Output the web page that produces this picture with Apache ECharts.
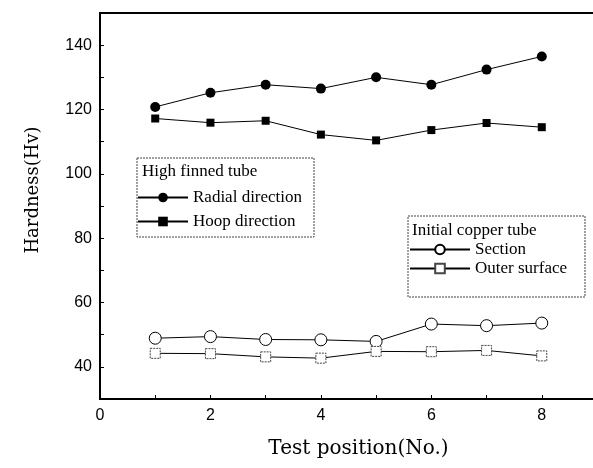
<!DOCTYPE html>
<html>
<head>
<meta charset="utf-8">
<script src="https://cdn.jsdelivr.net/npm/echarts@6/dist/echarts.min.js"></script>
<style>
  html, body { margin: 0; padding: 0; background: #fff; }
  #main { width: 593px; height: 468px; }
</style>
</head>
<body>
<div id="main"></div>
<script>
// test positions (x axis)
var positions = [1, 2, 3, 4, 5, 6, 7, 8];
// high finned tube
var radial = [120.8, 125.2, 127.7, 126.5, 130.0, 127.7, 132.4, 136.5];
var hoop = [117.2, 115.9, 116.5, 112.2, 110.4, 113.6, 115.8, 114.5];
// initial copper tube
var section = [48.9, 49.4, 48.5, 48.4, 47.9, 53.3, 52.8, 53.6];
var outer = [44.2, 44.1, 43.1, 42.7, 44.8, 44.7, 45.1, 43.4];

var xTickLabels = [0, 2, 4, 6, 8];
var yTickLabels = [40, 60, 80, 100, 120, 140];

function pairs(vals) {
    var out = [];
    for (var i = 0; i < positions.length; i++) {
        out.push([positions[i], vals[i]]);
    }
    return out;
}

var serif = "'Liberation Serif', 'DejaVu Serif', serif";
var wideSerif = "'DejaVu Serif', serif";
var sans = "'Liberation Sans', Arial, sans-serif";

var myChart = echarts.init(document.getElementById("main"));

var option = {
    animation: false,
    backgroundColor: "#fff",
    grid: {
        left: 100,
        width: 497,   // x = 9 sits just past the right edge, like the cropped original
        top: 13,
        bottom: 69,
        outerBoundsMode: "none",
        show: true,
        borderColor: "#000",
        borderWidth: 2
    },
    xAxis: {
        type: "value",
        min: 0,
        max: 9,
        interval: 1,
        name: "Test position(No.)",
        nameLocation: "middle",
        nameGap: 40,
        nameTextStyle: { fontFamily: wideSerif, fontSize: 20, color: "#000", padding: [0, 0, 0, 20] },
        axisLine: { lineStyle: { color: "#000", width: 2 } },
        axisTick: { inside: true, length: 4, lineStyle: { color: "#000" } },
        splitLine: { show: false },
        axisLabel: {
            margin: 9,
            fontFamily: sans,
            fontSize: 16,
            color: "#000",
            formatter: function (v) {
                return xTickLabels.indexOf(v) >= 0 ? String(v) : "";
            }
        }
    },
    yAxis: {
        type: "value",
        min: 30,
        max: 150,
        interval: 10,
        name: "Hardness(Hv)",
        nameLocation: "middle",
        nameGap: 58,
        nameTextStyle: { fontFamily: wideSerif, fontSize: 18, color: "#000", padding: [0, 0, 0, 32] },
        axisLine: { lineStyle: { color: "#000", width: 2 } },
        axisTick: { inside: true, length: 4, lineStyle: { color: "#000" } },
        splitLine: { show: false },
        axisLabel: {
            margin: 8,
            fontFamily: sans,
            fontSize: 16,
            color: "#000",
            formatter: function (v) {
                return yTickLabels.indexOf(v) >= 0 ? String(v) : "";
            }
        }
    },
    legend: [
        {
            orient: "vertical",
            left: 137,
            top: 189,
            itemWidth: 50,
            itemHeight: 12,
            itemGap: 7,
            padding: 0,
            textStyle: { fontFamily: serif, fontSize: 17, color: "#000" },
            data: ["Radial direction", "Hoop direction"]
        },
        {
            orient: "vertical",
            left: 409,
            top: 241,
            itemWidth: 60,
            itemHeight: 12,
            itemGap: 2,
            padding: 0,
            textStyle: { fontFamily: serif, fontSize: 17, color: "#000" },
            data: ["Section", "Outer surface"]
        }
    ],
    graphic: [
        {
            type: "rect",
            shape: { x: 137, y: 158, width: 177, height: 79 },
            style: { fill: "#fff", stroke: "#444", lineWidth: 1, lineDash: [2, 1] },
            z: 0
        },
        {
            type: "text",
            left: 142,
            top: 163,
            style: { text: "High finned tube", font: "17px " + serif, fill: "#000" },
            z: 5
        },
        {
            type: "rect",
            shape: { x: 408, y: 216, width: 177, height: 81 },
            style: { fill: "#fff", stroke: "#444", lineWidth: 1, lineDash: [2, 1] },
            z: 0
        },
        {
            type: "text",
            left: 412,
            top: 222,
            style: { text: "Initial copper tube", font: "17px " + serif, fill: "#000" },
            z: 5
        }
    ],
    series: [
        {
            name: "Radial direction",
            type: "line",
            data: pairs(radial),
            symbol: "circle",
            symbolSize: 10,
            itemStyle: { color: "#000" },
            lineStyle: { color: "#000", width: 1 }
        },
        {
            name: "Hoop direction",
            type: "line",
            data: pairs(hoop),
            symbol: "rect",
            symbolSize: 8,
            itemStyle: { color: "#000" },
            lineStyle: { color: "#000", width: 1 }
        },
        {
            name: "Section",
            type: "line",
            data: pairs(section),
            symbol: "circle",
            symbolSize: 12,
            itemStyle: { color: "#fff", borderColor: "#000", borderWidth: 1 },
            lineStyle: { color: "#000", width: 1 }
        },
        {
            name: "Outer surface",
            type: "line",
            data: pairs(outer),
            symbol: "rect",
            symbolSize: 10,
            itemStyle: { color: "#fff", borderColor: "#444", borderWidth: 1, borderType: [2, 1] },
            lineStyle: { color: "#000", width: 1 }
        }
    ]
};

myChart.setOption(option);
</script>
</body>
</html>
